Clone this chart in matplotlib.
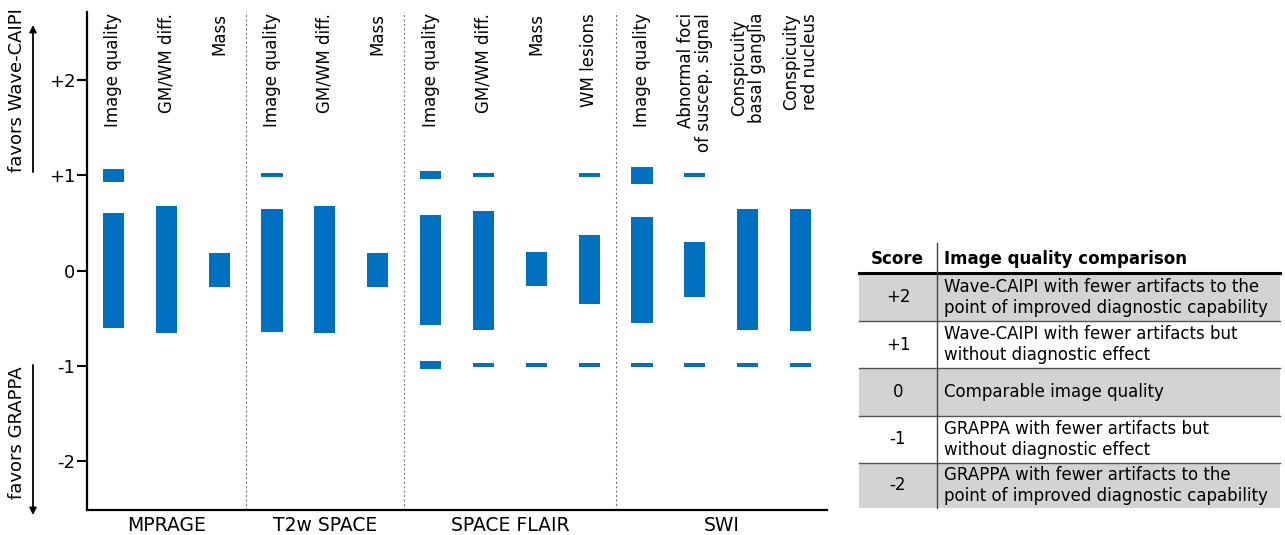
import matplotlib
matplotlib.use("Agg")
import matplotlib.pyplot as plt
from matplotlib.lines import Line2D
from matplotlib.patches import Rectangle, FancyArrowPatch
import matplotlib.transforms as mtransforms

plt.rcParams['font.family'] = ['DejaVu Sans']

# ---- data -------------------------------------------------------------
groups = ["MPRAGE", "T2w SPACE", "SPACE FLAIR", "SWI"]
group_sizes = [3, 3, 4, 4]

categories = [
    "Image quality", "GM/WM diff.", "Mass",
    "Image quality", "GM/WM diff.", "Mass",
    "Image quality", "GM/WM diff.", "Mass", "WM lesions",
    "Image quality", "Abnormal foci\nof suscep. signal",
    "Conspicuity\nbasal ganglia", "Conspicuity\nred nucleus",
]
label_align = ["center"] * 11 + ["right", "center", "center"]

# interval around 0
main_low = [-0.60, -0.66, -0.17, -0.645, -0.66, -0.17,
            -0.575, -0.625, -0.165, -0.35, -0.55, -0.275, -0.63, -0.64]
main_high = [0.60, 0.675, 0.18, 0.65, 0.675, 0.18,
             0.58, 0.63, 0.19, 0.37, 0.565, 0.295, 0.65, 0.645]

# interval around +1 (None = no mark)
plus1_low = [0.935, None, None, 0.98, None, None,
             0.96, 0.98, None, 0.98, 0.915, 0.98, None, None]
plus1_high = [1.065, None, None, 1.03, None, None,
              1.045, 1.03, None, 1.03, 1.09, 1.03, None, None]

# interval around -1 (None = no mark)
minus1_low = [None, None, None, None, None, None,
              -1.04, -1.02, -1.02, -1.02, -1.02, -1.02, -1.02, -1.02]
minus1_high = [None, None, None, None, None, None,
               -0.95, -0.97, -0.97, -0.97, -0.97, -0.97, -0.97, -0.97]

ytick_values = [2, 1, 0, -1, -2]
ytick_labels = ["+2", "+1", "0", "-1", "-2"]

scores = ["+2", "+1", "0", "-1", "-2"]
descriptions = [
    "Wave-CAIPI with fewer artifacts to the\npoint of improved diagnostic capability",
    "Wave-CAIPI with fewer artifacts but\nwithout diagnostic effect",
    "Comparable image quality",
    "GRAPPA with fewer artifacts but\nwithout diagnostic effect",
    "GRAPPA with fewer artifacts to the\npoint of improved diagnostic capability",
]

BLUE = "#0070C0"
W, H = 1285, 535

fig = plt.figure(figsize=(W / 100, H / 100), dpi=100)


def fx(px):
    return px / W


def fy(py):
    return 1 - py / H


ax = fig.add_axes([fx(87), fy(510), fx(827) - fx(87), (510 - 12) / H])

n = len(categories)
xs = list(range(n))
bar_w = 0.4

ax.bar(xs, [h - l for h, l in zip(main_high, main_low)], bottom=main_low,
       width=bar_w, color=BLUE, zorder=3)

for lows, highs in ((plus1_low, plus1_high), (minus1_low, minus1_high)):
    px = [x for x, l in zip(xs, lows) if l is not None]
    pl = [l for l in lows if l is not None]
    ph = [h for h in highs if h is not None]
    ax.bar(px, [h - l for h, l in zip(ph, pl)], bottom=pl, width=bar_w,
           color=BLUE, zorder=3)

ax.set_xlim(-0.5, n - 0.5)
ax.set_ylim(-2.52, 2.72)

for side in ("top", "right"):
    ax.spines[side].set_visible(False)
for side in ("left", "bottom"):
    ax.spines[side].set_linewidth(1.6)
    ax.spines[side].set_color("black")

ax.set_xticks([])
ax.set_yticks(ytick_values)
ax.set_yticklabels(ytick_labels, fontsize=13)
ax.tick_params(axis="y", length=7.5, width=1.5, pad=1)

# group separators and group names
blend = mtransforms.blended_transform_factory(ax.transData, ax.transAxes)
start = 0
for i, (name, size) in enumerate(zip(groups, group_sizes)):
    end = start + size
    if i > 0:
        ax.axvline(start - 0.5, color="#777777", lw=0.8,
                   linestyle=(0, (2, 2)), zorder=1)
    center = (start + end - 1) / 2
    ax.annotate(name, xy=(center, 0), xycoords=blend,
                xytext=(0, -4), textcoords="offset points",
                ha="center", va="top", fontsize=13.5)
    start = end

# rotated category labels along the top
for x, label, al in zip(xs, categories, label_align):
    ax.text(x, 0.998, label, transform=blend, rotation=90,
            ha="center", va="top", fontsize=12,
            multialignment=al, linespacing=1.0)

# direction arrows and captions on the left
arrow_kw = dict(arrowstyle="-|>", lw=1.3, color="black",
                mutation_scale=10, shrinkA=0, shrinkB=0)
fig.add_artist(FancyArrowPatch(
    (fx(33), fy(172)), (fx(33), fy(25)), transform=fig.transFigure, **arrow_kw))
fig.add_artist(FancyArrowPatch(
    (fx(33), fy(365)), (fx(33), fy(515)), transform=fig.transFigure, **arrow_kw))
fig.text(fx(17), fy(172), "favors Wave-CAIPI", rotation=90,
         ha="center", va="bottom", fontsize=13)
fig.text(fx(17), fy(366), "favors GRAPPA", rotation=90,
         ha="center", va="top", fontsize=13)

# ---- score legend table --------------------------------------------------
tab_left, tab_right = 859, 1280
col_split = 937
row_edges = [274, 321, 368, 416, 463, 508]
GRAY = "#d3d3d3"

for i in range(len(scores)):
    top, bot = row_edges[i], row_edges[i + 1]
    if i % 2 == 0:
        fig.add_artist(Rectangle((fx(tab_left), fy(bot)),
                                 fx(tab_right) - fx(tab_left),
                                 fy(top) - fy(bot),
                                 transform=fig.transFigure,
                                 facecolor=GRAY, edgecolor="none", zorder=0))
    if 0 < i:
        fig.add_artist(Line2D([fx(tab_left), fx(tab_right)], [fy(top), fy(top)],
                              transform=fig.transFigure, color="#555555", lw=1.0))
    cy = fy((top + bot) / 2)
    fig.text(fx(898), cy, scores[i], ha="center", va="center", fontsize=12)
    fig.text(fx(944), cy, descriptions[i], ha="left", va="center",
             fontsize=12, linespacing=1.2)

fig.add_artist(Line2D([fx(tab_left), fx(tab_right)], [fy(273), fy(273)],
                      transform=fig.transFigure, color="black", lw=2.2))
fig.add_artist(Line2D([fx(col_split), fx(col_split)], [fy(243), fy(508)],
                      transform=fig.transFigure, color="#444444", lw=1.0))
fig.text(fx(897), fy(259), "Score", ha="center", va="center",
         fontsize=12, fontweight="bold")
fig.text(fx(944), fy(259), "Image quality comparison", ha="left",
         va="center", fontsize=12, fontweight="bold")

fig.savefig("out.png", dpi=100)
